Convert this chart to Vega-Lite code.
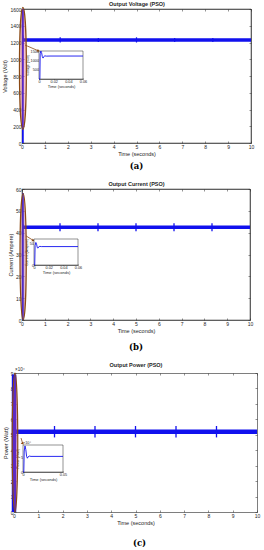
{
  "$schema": "https://vega.github.io/schema/vega-lite/v6.json",
  "background": "white",
  "padding": {"left": 2, "top": 1, "right": 0, "bottom": 0},
  "columns": 1,
  "align": "none",
  "spacing": 10,
  "config": {
    "font": "Liberation Sans",
    "view": {"stroke": "#262626", "strokeWidth": 0.6},
    "axis": {
      "labelFont": "Liberation Sans", "titleFont": "Liberation Sans",
      "labelFontSize": 5, "titleFontSize": 5.5, "titleFontWeight": "normal",
      "labelColor": "#262626", "titleColor": "#262626",
      "domainColor": "#262626", "tickColor": "#262626",
      "domainWidth": 0.6, "tickWidth": 0.5, "tickSize": -2,
      "labelPadding": 3, "titlePadding": 2, "grid": false, "zindex": 1,
      "labelFlush": false, "labelOverlap": false, "labelBound": false
    }
  },
  "datasets": {
    "aMain": [
      {"t": 0, "v": 0}, {"t": 0.002, "v": 1600}, {"t": 0.004, "v": 1120}, {"t": 0.006, "v": 1290}, {"t": 0.01, "v": 1230},
      {"t": 10, "v": 1230}
    ],
    "aSpk": [{"t": 1.667, "lo": 1200, "hi": 1262}, {"t": 3.333, "lo": 1205, "hi": 1255}, {"t": 5.0, "lo": 1200, "hi": 1262}, {"t": 6.667, "lo": 1205, "hi": 1255}, {"t": 8.333, "lo": 1205, "hi": 1255}],
    "aEll": [{"t": 0.04, "v": 890}],
    "aArrow": [{"t1": 0.13, "v1": 1170, "t2": 0.72, "v2": 1100}],
    "aInset": [
      {"t": 0, "v": 0}, {"t": 0.0012, "v": 0}, {"t": 0.0016, "v": 1350}, {"t": 0.0025, "v": 1500}, {"t": 0.0035, "v": 1420},
      {"t": 0.0045, "v": 1200}, {"t": 0.0055, "v": 1120}, {"t": 0.0065, "v": 1200}, {"t": 0.008, "v": 1240},
      {"t": 0.01, "v": 1225}, {"t": 0.015, "v": 1230}, {"t": 0.06, "v": 1230}
    ],
    "aBox": [{"t0": 0, "t1": 0.06, "v0": 0, "v1": 1500}],
    "bMain": [
      {"t": 0, "v": 0}, {"t": 0.002, "v": 58}, {"t": 0.004, "v": 38}, {"t": 0.006, "v": 44}, {"t": 0.01, "v": 42.5},
      {"t": 10, "v": 42.5}
    ],
    "bSpk": [{"t": 1.667, "lo": 40.7, "hi": 44.3}, {"t": 3.333, "lo": 40.7, "hi": 44.3}, {"t": 5.0, "lo": 40.7, "hi": 44.3}, {"t": 6.667, "lo": 40.7, "hi": 44.3}, {"t": 8.333, "lo": 40.7, "hi": 44.3}],
    "bEll": [{"t": 0.05, "v": 29}],
    "bArrow": [{"t1": 0.18, "v1": 38.5, "t2": 0.5, "v2": 36.4}],
    "bInset": [
      {"t": 0, "v": 0}, {"t": 0.001, "v": 0}, {"t": 0.0015, "v": 45}, {"t": 0.0025, "v": 52}, {"t": 0.0035, "v": 48},
      {"t": 0.0045, "v": 40}, {"t": 0.0055, "v": 39}, {"t": 0.0065, "v": 42}, {"t": 0.008, "v": 43},
      {"t": 0.01, "v": 42.5}, {"t": 0.06, "v": 42.5}
    ],
    "bBox": [{"t0": 0, "t1": 0.06, "v0": 0, "v1": 60}],
    "cMain": [
      {"t": 0, "p": 0}, {"t": 0.002, "p": 8.9}, {"t": 0.004, "p": 4.5}, {"t": 0.006, "p": 5.4}, {"t": 0.01, "p": 5.2},
      {"t": 10, "p": 5.2}
    ],
    "cSpk": [{"t": 1.667, "lo": 4.83, "hi": 5.57}, {"t": 3.333, "lo": 4.83, "hi": 5.57}, {"t": 5.0, "lo": 4.83, "hi": 5.57}, {"t": 6.667, "lo": 4.83, "hi": 5.57}, {"t": 8.333, "lo": 4.83, "hi": 5.57}],
    "cEll": [{"t": 0.04, "p": 4.5}],
    "cArrow": [{"t1": 0.29, "p1": 4.79, "t2": 0.36, "p2": 4.42}],
    "cExp": [{"t": 0, "p": 9, "label": "×10⁴"}],
    "cInset": [
      {"t": 0, "p": 0}, {"t": 0.001, "p": 0}, {"t": 0.0015, "p": 7.0}, {"t": 0.0025, "p": 8.7}, {"t": 0.0035, "p": 7.5},
      {"t": 0.0045, "p": 5.2}, {"t": 0.0055, "p": 4.6}, {"t": 0.0065, "p": 5.1}, {"t": 0.008, "p": 5.3},
      {"t": 0.01, "p": 5.2}, {"t": 0.05, "p": 5.2}
    ],
    "cBox": [{"t0": 0, "t1": 0.05, "p0": 0, "p1": 9}]
  },
  "concat": [
    {
      "width": 229, "height": 134,
      "title": {"text": "(a)", "orient": "bottom", "font": "DejaVu Serif", "fontSize": 8.5, "fontWeight": "bold", "color": "#000000", "offset": 5},
      "resolve": {"scale": {"x": "independent", "y": "independent"}, "axis": {"x": "independent", "y": "independent"}},
      "layer": [
        {"data": {"name": "aMain"}, "mark": {"type": "line", "color": "#1111ee", "strokeWidth": 3.5, "clip": true},
         "encoding": {
           "x": {"field": "t", "type": "quantitative", "scale": {"domain": [0, 10], "nice": false}, "axis": {"title": "Time (seconds)", "values": [0,1,2,3,4,5,6,7,8,9,10], "labelOverlap": false}},
           "y": {"field": "v", "type": "quantitative", "scale": {"domain": [0, 1600], "nice": false}, "axis": {"title": "Voltage (Volt)", "format": "d", "values": [0,200,400,600,800,1000,1200,1400,1600], "labelOverlap": false}}}},
        {"data": {"name": "aSpk"}, "mark": {"type": "rule", "color": "#1111ee", "strokeWidth": 1.2},
         "encoding": {"x": {"field": "t", "type": "quantitative", "scale": {"domain": [0, 10], "nice": false}, "axis": null}, "y": {"field": "lo", "type": "quantitative", "scale": {"domain": [0, 1600], "nice": false}, "axis": null}, "y2": {"field": "hi"}}},
        {"data": {"name": "aEll"}, "mark": {"type": "point", "shape": "M0,-1 A0.057,1 0 1,1 0,1 A0.057,1 0 1,1 0,-1 Z", "size": 14884, "filled": true, "fill": "#e0507a", "fillOpacity": 0.35, "stroke": "#8b4a14", "strokeWidth": 1.2, "opacity": 1},
         "encoding": {"x": {"field": "t", "type": "quantitative", "scale": {"domain": [0, 10], "nice": false}, "axis": null}, "y": {"field": "v", "type": "quantitative", "scale": {"domain": [0, 1600], "nice": false}, "axis": null}}},
        {"data": {"name": "aArrow"}, "mark": {"type": "rule", "color": "#8b4a14", "strokeWidth": 0.8},
         "encoding": {"x": {"field": "t1", "type": "quantitative", "scale": {"domain": [0, 10], "nice": false}, "axis": null}, "y": {"field": "v1", "type": "quantitative", "scale": {"domain": [0, 1600], "nice": false}, "axis": null}, "x2": {"field": "t2"}, "y2": {"field": "v2"}}},
        {"data": {"name": "aArrow"}, "mark": {"type": "point", "shape": "triangle-right", "angle": 23, "size": 10, "filled": true, "color": "#8b4a14", "opacity": 1},
         "encoding": {"x": {"field": "t2", "type": "quantitative", "scale": {"domain": [0, 10], "nice": false}, "axis": null}, "y": {"field": "v2", "type": "quantitative", "scale": {"domain": [0, 1600], "nice": false}, "axis": null}}},
        {"data": {"values": [{"t": 0}]}, "mark": {"type": "point", "opacity": 0},
         "encoding": {
           "x": {"datum": 0, "type": "quantitative", "scale": {"domain": [0, 10], "nice": false}, "axis": {"orient": "top", "labels": false, "title": "Output Voltage (PSO)", "titleFontWeight": "bold", "values": [0,1,2,3,4,5,6,7,8,9,10]}},
           "y": {"datum": 0, "type": "quantitative", "scale": {"domain": [0, 1600], "nice": false}, "axis": {"orient": "right", "labels": false, "title": null, "values": [0,200,400,600,800,1000,1200,1400,1600]}}}},
        {"data": {"name": "aBox"}, "mark": {"type": "rect", "fill": "white", "stroke": "#262626", "strokeWidth": 0.5},
         "encoding": {
           "x": {"field": "t0", "type": "quantitative", "scale": {"domain": [0, 0.06], "range": [17, 61], "nice": false}, "axis": {"orient": "bottom", "offset": -64, "title": "Time (seconds)", "values": [0, 0.02, 0.04, 0.06], "format": ".2~f", "labelOverlap": false, "labelFontSize": 3.8, "titleFontSize": 4, "tickSize": -1, "labelPadding": 1.5, "titlePadding": 1}},
           "x2": {"field": "t1"},
           "y": {"field": "v0", "type": "quantitative", "scale": {"domain": [0, 1500], "range": [70, 42], "nice": false}, "axis": {"orient": "left", "offset": -17, "title": "Voltage (Volt)", "format": "d", "values": [500, 1000, 1500], "labelOverlap": false, "labelFontSize": 3.8, "titleFontSize": 3.5, "tickSize": -1, "labelPadding": 1.5, "titlePadding": 1}},
           "y2": {"field": "v1"}}},
        {"data": {"name": "aInset"}, "mark": {"type": "line", "color": "#1111ee", "strokeWidth": 0.9},
         "encoding": {"x": {"field": "t", "type": "quantitative", "scale": {"domain": [0, 0.06], "range": [17, 61], "nice": false}, "axis": null}, "y": {"field": "v", "type": "quantitative", "scale": {"domain": [0, 1500], "range": [70, 42], "nice": false}, "axis": null}}}
      ]
    },
    {
      "width": 228, "height": 131,
      "title": {"text": "(b)", "orient": "bottom", "font": "DejaVu Serif", "fontSize": 8.5, "fontWeight": "bold", "color": "#000000", "offset": 9},
      "resolve": {"scale": {"x": "independent", "y": "independent"}, "axis": {"x": "independent", "y": "independent"}},
      "layer": [
        {"data": {"name": "bMain"}, "mark": {"type": "line", "color": "#1111ee", "strokeWidth": 3.5, "clip": true},
         "encoding": {
           "x": {"field": "t", "type": "quantitative", "scale": {"domain": [0, 10], "nice": false}, "axis": {"title": "Time (seconds)", "values": [0,1,2,3,4,5,6,7,8,9,10], "labelOverlap": false}},
           "y": {"field": "v", "type": "quantitative", "scale": {"domain": [0, 60], "nice": false}, "axis": {"title": "Current (Ampere)", "values": [0,10,20,30,40,50,60], "labelOverlap": false}}}},
        {"data": {"name": "bSpk"}, "mark": {"type": "rule", "color": "#1111ee", "strokeWidth": 1.3},
         "encoding": {"x": {"field": "t", "type": "quantitative", "scale": {"domain": [0, 10], "nice": false}, "axis": null}, "y": {"field": "lo", "type": "quantitative", "scale": {"domain": [0, 60], "nice": false}, "axis": null}, "y2": {"field": "hi"}}},
        {"data": {"name": "bEll"}, "mark": {"type": "point", "shape": "M0,-1 A0.05,1 0 1,1 0,1 A0.05,1 0 1,1 0,-1 Z", "size": 15876, "filled": true, "fill": "#b0508a", "fillOpacity": 0.4, "stroke": "#8b4a14", "strokeWidth": 1.2, "opacity": 1},
         "encoding": {"x": {"field": "t", "type": "quantitative", "scale": {"domain": [0, 10], "nice": false}, "axis": null}, "y": {"field": "v", "type": "quantitative", "scale": {"domain": [0, 60], "nice": false}, "axis": null}}},
        {"data": {"name": "bArrow"}, "mark": {"type": "rule", "color": "#8b4a14", "strokeWidth": 0.8},
         "encoding": {"x": {"field": "t1", "type": "quantitative", "scale": {"domain": [0, 10], "nice": false}, "axis": null}, "y": {"field": "v1", "type": "quantitative", "scale": {"domain": [0, 60], "nice": false}, "axis": null}, "x2": {"field": "t2"}, "y2": {"field": "v2"}}},
        {"data": {"name": "bArrow"}, "mark": {"type": "point", "shape": "triangle-right", "angle": 27, "size": 10, "filled": true, "color": "#8b4a14", "opacity": 1},
         "encoding": {"x": {"field": "t2", "type": "quantitative", "scale": {"domain": [0, 10], "nice": false}, "axis": null}, "y": {"field": "v2", "type": "quantitative", "scale": {"domain": [0, 60], "nice": false}, "axis": null}}},
        {"data": {"values": [{"t": 0}]}, "mark": {"type": "point", "opacity": 0},
         "encoding": {
           "x": {"datum": 0, "type": "quantitative", "scale": {"domain": [0, 10], "nice": false}, "axis": {"orient": "top", "labels": false, "title": "Output Current (PSO)", "titleFontWeight": "bold", "values": [0,1,2,3,4,5,6,7,8,9,10]}},
           "y": {"datum": 0, "type": "quantitative", "scale": {"domain": [0, 60], "nice": false}, "axis": {"orient": "right", "labels": false, "title": null, "values": [0,10,20,30,40,50,60]}}}},
        {"data": {"name": "bBox"}, "mark": {"type": "rect", "fill": "white", "stroke": "#262626", "strokeWidth": 0.5},
         "encoding": {
           "x": {"field": "t0", "type": "quantitative", "scale": {"domain": [0, 0.06], "range": [12, 56], "nice": false}, "axis": {"orient": "bottom", "offset": -55, "title": "Time (seconds)", "values": [0, 0.02, 0.04, 0.06], "format": ".2~f", "labelOverlap": false, "labelFontSize": 3.8, "titleFontSize": 4, "tickSize": -1, "labelPadding": 1.5, "titlePadding": 1}},
           "x2": {"field": "t1"},
           "y": {"field": "v0", "type": "quantitative", "scale": {"domain": [0, 60], "range": [76, 50], "nice": false}, "axis": {"orient": "left", "offset": -12, "title": "Current (Ampere)", "values": [0, 50], "labelOverlap": false, "labelFontSize": 3.8, "titleFontSize": 3.5, "tickSize": -1, "labelPadding": 1.5, "titlePadding": 1}},
           "y2": {"field": "v1"}}},
        {"data": {"name": "bInset"}, "mark": {"type": "line", "color": "#1111ee", "strokeWidth": 0.9},
         "encoding": {"x": {"field": "t", "type": "quantitative", "scale": {"domain": [0, 0.06], "range": [12, 56], "nice": false}, "axis": null}, "y": {"field": "v", "type": "quantitative", "scale": {"domain": [0, 60], "range": [76, 50], "nice": false}, "axis": null}}}
      ]
    },
    {
      "width": 235, "height": 139,
      "view": {"stroke": null},
      "title": {"text": "(c)", "orient": "bottom", "font": "DejaVu Serif", "fontSize": 8.5, "fontWeight": "bold", "color": "#000000", "offset": 13},
      "resolve": {"scale": {"x": "independent", "y": "independent"}, "axis": {"x": "independent", "y": "independent"}},
      "layer": [
        {"data": {"name": "cMain"}, "mark": {"type": "line", "color": "#1111ee", "strokeWidth": 4.5, "clip": false},
         "encoding": {
           "x": {"field": "t", "type": "quantitative", "scale": {"domain": [0, 10], "range": [-8, 235], "nice": false}, "axis": {"title": "Time (seconds)", "values": [0,1,2,3,4,5,6,7,8,9,10], "labelOverlap": false}},
           "y": {"field": "p", "type": "quantitative", "scale": {"domain": [0, 9], "nice": false}, "axis": {"title": "Power (Watt)", "offset": 8, "values": [0,1,2,3,4,5,6,7,8,9], "labelOverlap": false, "labelColor": "#1a1a1a"}}}},
        {"data": {"name": "cSpk"}, "mark": {"type": "rule", "color": "#1111ee", "strokeWidth": 1.3},
         "encoding": {"x": {"field": "t", "type": "quantitative", "scale": {"domain": [0, 10], "range": [-8, 235], "nice": false}, "axis": null}, "y": {"field": "lo", "type": "quantitative", "scale": {"domain": [0, 9], "nice": false}, "axis": null}, "y2": {"field": "hi"}}},
        {"data": {"name": "cEll"}, "mark": {"type": "point", "shape": "M0,-1 A0.04,1 0 1,1 0,1 A0.04,1 0 1,1 0,-1 Z", "size": 19321, "filled": true, "fill": "#d0508a", "fillOpacity": 0.4, "stroke": "#8b4a14", "strokeWidth": 1.2, "opacity": 1},
         "encoding": {"x": {"field": "t", "type": "quantitative", "scale": {"domain": [0, 10], "range": [-8, 235], "nice": false}, "axis": null}, "y": {"field": "p", "type": "quantitative", "scale": {"domain": [0, 9], "nice": false}, "axis": null}}},
        {"data": {"name": "cArrow"}, "mark": {"type": "rule", "color": "#8b4a14", "strokeWidth": 0.8},
         "encoding": {"x": {"field": "t1", "type": "quantitative", "scale": {"domain": [0, 10], "range": [-8, 235], "nice": false}, "axis": null}, "y": {"field": "p1", "type": "quantitative", "scale": {"domain": [0, 9], "nice": false}, "axis": null}, "x2": {"field": "t2"}, "y2": {"field": "p2"}}},
        {"data": {"name": "cArrow"}, "mark": {"type": "point", "shape": "triangle-right", "angle": 54, "size": 10, "filled": true, "color": "#8b4a14", "opacity": 1},
         "encoding": {"x": {"field": "t2", "type": "quantitative", "scale": {"domain": [0, 10], "range": [-8, 235], "nice": false}, "axis": null}, "y": {"field": "p2", "type": "quantitative", "scale": {"domain": [0, 9], "nice": false}, "axis": null}}},
        {"data": {"name": "cExp"}, "mark": {"type": "text", "align": "left", "baseline": "bottom", "dx": 1, "dy": -1, "fontSize": 4.5, "color": "#262626"},
         "encoding": {"x": {"field": "t", "type": "quantitative", "scale": {"domain": [0, 10], "range": [-8, 235], "nice": false}, "axis": null}, "y": {"field": "p", "type": "quantitative", "scale": {"domain": [0, 9], "nice": false}, "axis": null}, "text": {"field": "label"}}},
        {"data": {"values": [{"t": 0}]}, "mark": {"type": "point", "opacity": 0},
         "encoding": {
           "x": {"datum": 0, "type": "quantitative", "scale": {"domain": [0, 10], "range": [-8, 235], "nice": false}, "axis": {"orient": "top", "labels": false, "title": "Output Power (PSO)", "titleFontWeight": "bold", "titlePadding": 5, "values": [0,1,2,3,4,5,6,7,8,9,10]}},
           "y": {"datum": 0, "type": "quantitative", "scale": {"domain": [0, 9], "nice": false}, "axis": {"orient": "right", "labels": false, "title": null, "values": [0,1,2,3,4,5,6,7,8,9]}}}},
        {"data": {"name": "cBox"}, "mark": {"type": "rect", "fill": "white", "stroke": "#262626", "strokeWidth": 0.5},
         "encoding": {
           "x": {"field": "t0", "type": "quantitative", "scale": {"domain": [0, 0.05], "range": [1, 41], "nice": false}, "axis": {"orient": "bottom", "offset": -40, "title": "Time (seconds)", "values": [0, 0.05], "format": ".2~f", "labelOverlap": false, "labelFontSize": 3.8, "titleFontSize": 4, "tickSize": -1, "labelPadding": 1.5, "titlePadding": 1}},
           "x2": {"field": "t1"},
           "y": {"field": "p0", "type": "quantitative", "scale": {"domain": [0, 9], "range": [99, 72], "nice": false}, "axis": {"orient": "left", "offset": -1, "title": "Power (Watt)", "values": [0, 5], "labelOverlap": false, "labelFontSize": 3.8, "titleFontSize": 3.5, "tickSize": -1, "labelPadding": 1.5, "titlePadding": 1}},
           "y2": {"field": "p1"}}},
        {"data": {"name": "cInset"}, "mark": {"type": "line", "color": "#1111ee", "strokeWidth": 0.9},
         "encoding": {"x": {"field": "t", "type": "quantitative", "scale": {"domain": [0, 0.05], "range": [1, 41], "nice": false}, "axis": null}, "y": {"field": "p", "type": "quantitative", "scale": {"domain": [0, 9], "range": [99, 72], "nice": false}, "axis": null}}},
        {"data": {"name": "cExp"}, "mark": {"type": "text", "align": "left", "baseline": "bottom", "dx": 0, "dy": -0.5, "fontSize": 3.8, "color": "#262626"},
         "encoding": {"x": {"field": "t", "type": "quantitative", "scale": {"domain": [0, 0.05], "range": [1, 41], "nice": false}, "axis": null}, "y": {"field": "p", "type": "quantitative", "scale": {"domain": [0, 9], "range": [99, 72], "nice": false}, "axis": null}, "text": {"field": "label"}}}
      ]
    }
  ]
}
